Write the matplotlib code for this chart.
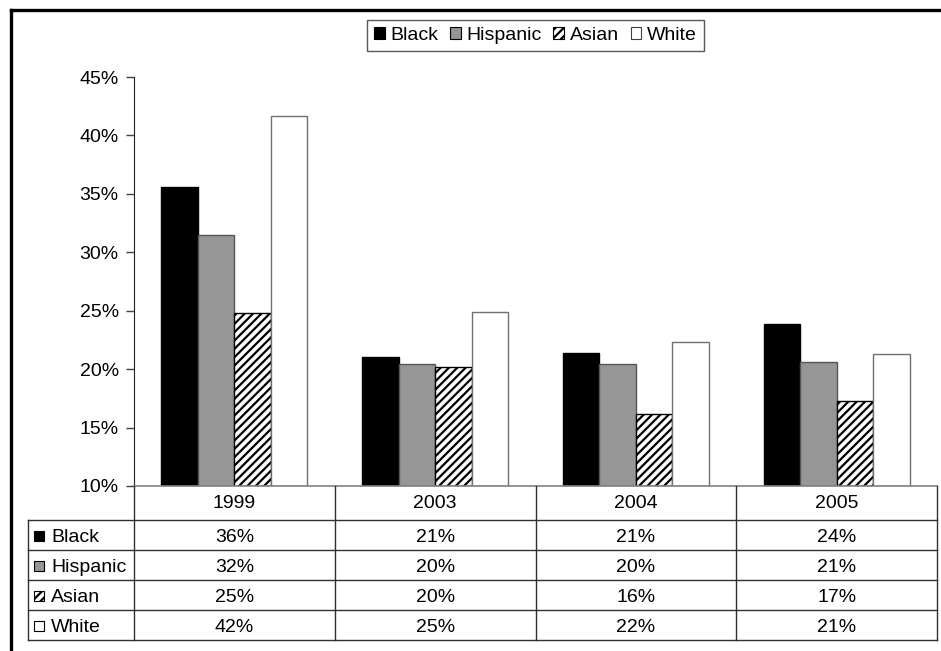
import matplotlib
matplotlib.use("Agg")
import matplotlib.pyplot as plt
import numpy as np
from matplotlib.patches import Patch, Rectangle
from matplotlib.lines import Line2D

plt.rcParams["font.family"] = ["Liberation Sans", "DejaVu Sans"]
plt.rcParams["hatch.linewidth"] = 1.6

# Share of students by group, per survey year (percent)
years = ["1999", "2003", "2004", "2005"]
groups = ["Black", "Hispanic", "Asian", "White"]
black = [35.6, 21.0, 21.4, 23.9]
hispanic = [31.5, 20.4, 20.4, 20.6]
asian = [24.8, 20.2, 16.2, 17.3]
white = [41.7, 24.9, 22.3, 21.3]
series = [black, hispanic, asian, white]

y_ticks = [10, 15, 20, 25, 30, 35, 40, 45]
FS = 14

styles = [
    dict(facecolor="black", edgecolor="black", hatch=None),
    dict(facecolor="#969696", edgecolor="#555555", hatch=None),
    dict(facecolor="white", edgecolor="black", hatch="////"),
    dict(facecolor="white", edgecolor="#707070", hatch=None),
]

W, H = 941, 651
fig = plt.figure(figsize=(W / 100, H / 100), dpi=100)


def px_box(x0, y0, x1, y1):
    return [x0 / W, 1 - y1 / H, (x1 - x0) / W, (y1 - y0) / H]


ax = fig.add_axes(px_box(134, 77, 937, 486))
x = np.arange(len(years))
bw = 0.182
for i, (vals, st) in enumerate(zip(series, styles)):
    ax.bar(x + (i - 1.5) * bw, np.array(vals) - 10, bottom=10, width=bw,
           facecolor=st["facecolor"], edgecolor=st["edgecolor"],
           hatch=st["hatch"], linewidth=1.0, zorder=2)

ax.set_xlim(-0.5, len(years) - 0.5)
ax.set_ylim(10, 45)
ax.set_yticks(y_ticks)
ax.set_yticklabels([f"{t}%" for t in y_ticks], fontsize=FS)
ax.tick_params(axis="y", length=6, width=1, color="#404040", pad=5)
ax.tick_params(axis="x", length=0, labelbottom=False)
for s in ["top", "right"]:
    ax.spines[s].set_visible(False)
ax.spines["left"].set_color("#202020")
ax.spines["bottom"].set_color("#808080")
ax.spines["bottom"].set_linewidth(1.2)

# Data table under the bars, sharing the category columns
tab = fig.add_axes(px_box(134, 486, 937, 641))
tab.set_xlim(-0.5, len(years) - 0.5)
tab.set_ylim(155, 0)
tab.axis("off")
row_edges = [0, 34, 64, 94, 124, 154]
lab_left = -1.028
line_kw = dict(color="#303030", lw=1.0, clip_on=False)
for xb in np.arange(len(years) + 1) - 0.5:
    tab.add_line(Line2D([xb, xb], [0, row_edges[-1]], **line_kw))
for yb in row_edges[1:]:
    tab.add_line(Line2D([lab_left, len(years) - 0.5], [yb, yb], **line_kw))
tab.add_line(Line2D([lab_left, lab_left], [row_edges[1], row_edges[-1]], **line_kw))

for j, yr in enumerate(years):
    tab.text(j, (row_edges[0] + row_edges[1]) / 2 + 1, yr, ha="center",
             va="center", fontsize=FS)
for i, (g, vals, st) in enumerate(zip(groups, series, styles)):
    yc = (row_edges[i + 1] + row_edges[i + 2]) / 2
    for j, v in enumerate(vals):
        tab.text(j, yc + 2, f"{v:.0f}%", ha="center", va="center", fontsize=FS)
    tab.add_patch(Rectangle((lab_left + 0.03, yc - 4), 0.05, 10,
                            facecolor=st["facecolor"], edgecolor="black",
                            hatch=st["hatch"], lw=0.8, clip_on=False))
    tab.text(lab_left + 0.115, yc + 2, g, ha="left", va="center", fontsize=FS)

# Legend box across the top
handles = [Patch(facecolor=st["facecolor"],
                 edgecolor="black" if i != 3 else "#404040",
                 hatch=st["hatch"], lw=0.8)
           for i, st in enumerate(styles)]
leg = fig.legend(handles, groups, loc="upper center", ncol=4,
                 bbox_to_anchor=(535.5 / W, 1 - 20 / H), fontsize=FS,
                 frameon=True, fancybox=False, handlelength=0.55,
                 handleheight=0.55, handletextpad=0.3, columnspacing=0.6,
                 borderpad=0.35, borderaxespad=0)
leg.get_frame().set_edgecolor("#303030")
leg.get_frame().set_linewidth(1.0)

# Outer frame (left and top edges)
fig.add_artist(Line2D([11 / W, 11 / W], [0, 1 - 10 / H], color="black",
                      lw=2.4, transform=fig.transFigure))
fig.add_artist(Line2D([11 / W, 1], [1 - 10 / H, 1 - 10 / H], color="black",
                      lw=2.4, transform=fig.transFigure))

fig.savefig("out.png", dpi=100)
